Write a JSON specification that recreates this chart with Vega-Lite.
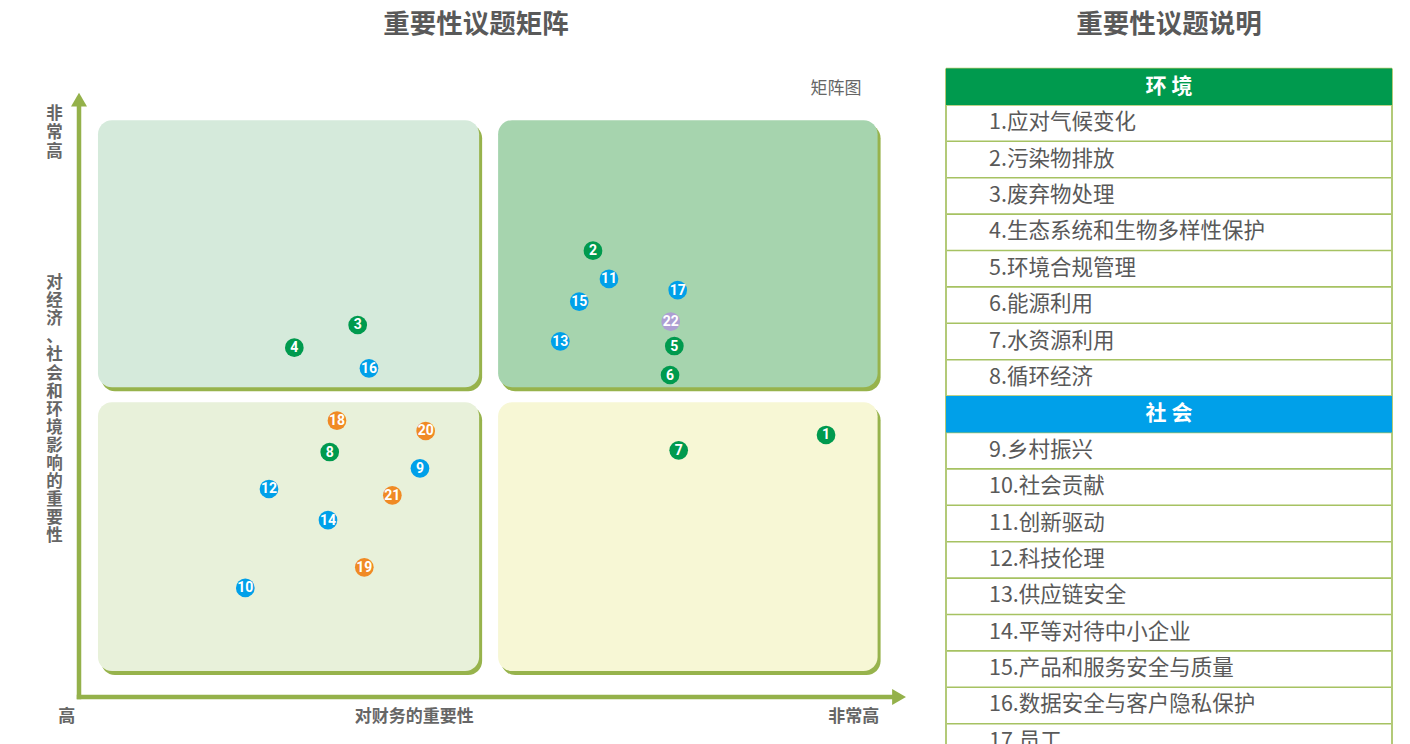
{
  "$schema": "https://vega.github.io/schema/vega-lite/v6.json",
  "padding": 0,
  "spacing": 0,
  "background": "white",
  "config": {"view": {"stroke": null}, "font": "Noto Sans CJK SC"},
  "datasets": {
    "quadrants": [
      {"q": "TL", "u": 2.3, "u2": 48.5, "v": 51.3, "v2": 95.5},
      {"q": "TR", "u": 50.8, "u2": 96.8, "v": 51.3, "v2": 95.5},
      {"q": "BL", "u": 2.3, "u2": 48.5, "v": 4.3, "v2": 48.8},
      {"q": "BR", "u": 50.8, "u2": 96.8, "v": 4.3, "v2": 48.8}
    ],
    "points": [
      {"id": "1", "cat": "环境", "u": 90.55, "v": 43.38},
      {"id": "2", "cat": "环境", "u": 62.3, "v": 73.89},
      {"id": "3", "cat": "环境", "u": 33.78, "v": 61.59},
      {"id": "4", "cat": "环境", "u": 26.1, "v": 57.83},
      {"id": "5", "cat": "环境", "u": 72.16, "v": 58.11},
      {"id": "6", "cat": "环境", "u": 71.64, "v": 53.31},
      {"id": "7", "cat": "环境", "u": 72.69, "v": 40.84},
      {"id": "8", "cat": "环境", "u": 30.39, "v": 40.56},
      {"id": "9", "cat": "社会", "u": 41.33, "v": 37.86},
      {"id": "10", "cat": "社会", "u": 20.16, "v": 18.05},
      {"id": "11", "cat": "社会", "u": 64.24, "v": 69.21},
      {"id": "12", "cat": "社会", "u": 23.03, "v": 34.44},
      {"id": "13", "cat": "社会", "u": 58.34, "v": 58.89},
      {"id": "14", "cat": "社会", "u": 30.18, "v": 29.3},
      {"id": "15", "cat": "社会", "u": 60.64, "v": 65.45},
      {"id": "16", "cat": "社会", "u": 35.15, "v": 54.42},
      {"id": "17", "cat": "社会", "u": 72.57, "v": 67.38},
      {"id": "18", "cat": "治理", "u": 31.27, "v": 45.75},
      {"id": "19", "cat": "治理", "u": 34.58, "v": 21.47},
      {"id": "20", "cat": "治理", "u": 42.02, "v": 44.04},
      {"id": "21", "cat": "治理", "u": 37.98, "v": 33.39},
      {"id": "22", "cat": "其他", "u": 71.72, "v": 62.14}
    ],
    "hlines": [
      {"x": 0, "x2": 1, "r": -0.5}, {"x": 0, "x2": 1, "r": 0.5}, {"x": 0, "x2": 1, "r": 1.5},
      {"x": 0, "x2": 1, "r": 2.5}, {"x": 0, "x2": 1, "r": 3.5}, {"x": 0, "x2": 1, "r": 4.5},
      {"x": 0, "x2": 1, "r": 5.5}, {"x": 0, "x2": 1, "r": 6.5}, {"x": 0, "x2": 1, "r": 7.5},
      {"x": 0, "x2": 1, "r": 8.5}, {"x": 0, "x2": 1, "r": 9.5}, {"x": 0, "x2": 1, "r": 10.5},
      {"x": 0, "x2": 1, "r": 11.5}, {"x": 0, "x2": 1, "r": 12.5}, {"x": 0, "x2": 1, "r": 13.5},
      {"x": 0, "x2": 1, "r": 14.5}, {"x": 0, "x2": 1, "r": 15.5}, {"x": 0, "x2": 1, "r": 16.5},
      {"x": 0, "x2": 1, "r": 17.5}
    ],
    "headers": [
      {"sec": "环 境", "x": 0, "x2": 1, "r": -0.5, "r2": 0.5, "xc": 0.5, "rc": 0},
      {"sec": "社 会", "x": 0, "x2": 1, "r": 8.5, "r2": 9.5, "xc": 0.5, "rc": 9}
    ],
    "items": [
      {"label": "1.应对气候变化", "x": 0.0964, "r": 1},
      {"label": "2.污染物排放", "x": 0.0964, "r": 2},
      {"label": "3.废弃物处理", "x": 0.0964, "r": 3},
      {"label": "4.生态系统和生物多样性保护", "x": 0.0964, "r": 4},
      {"label": "5.环境合规管理", "x": 0.0964, "r": 5},
      {"label": "6.能源利用", "x": 0.0964, "r": 6},
      {"label": "7.水资源利用", "x": 0.0964, "r": 7},
      {"label": "8.循环经济", "x": 0.0964, "r": 8},
      {"label": "9.乡村振兴", "x": 0.0964, "r": 10},
      {"label": "10.社会贡献", "x": 0.0964, "r": 11},
      {"label": "11.创新驱动", "x": 0.0964, "r": 12},
      {"label": "12.科技伦理", "x": 0.0964, "r": 13},
      {"label": "13.供应链安全", "x": 0.0964, "r": 14},
      {"label": "14.平等对待中小企业", "x": 0.0964, "r": 15},
      {"label": "15.产品和服务安全与质量", "x": 0.0964, "r": 16},
      {"label": "16.数据安全与客户隐私保护", "x": 0.0964, "r": 17},
      {"label": "17.员工", "x": 0.0964, "r": 18}
    ]
  },
  "hconcat": [
    {
      "width": 940,
      "height": 744,
      "encoding": {
        "x": {"field": "u", "type": "quantitative", "scale": {"domain": [-9.5758, 104.3636], "nice": false, "zero": false}, "axis": null},
        "y": {"field": "v", "type": "quantitative", "scale": {"domain": [-7.7815, 115.3974], "nice": false, "zero": false}, "axis": null}
      },
      "layer": [
        {
          "data": {"name": "quadrants"},
          "mark": {"type": "rect", "color": "#97b34c", "cornerRadius": 14, "xOffset": 3, "x2Offset": 3, "yOffset": 4, "y2Offset": 4},
          "encoding": {"x2": {"field": "u2"}, "y2": {"field": "v2"}}
        },
        {
          "data": {"name": "quadrants"},
          "mark": {"type": "rect", "cornerRadius": 14},
          "encoding": {
            "x2": {"field": "u2"},
            "y2": {"field": "v2"},
            "color": {"field": "q", "type": "nominal", "scale": {"domain": ["TL", "TR", "BL", "BR"], "range": ["#d5eadb", "#a6d4ae", "#e8f1da", "#f7f7d5"]}, "legend": null}
          }
        },
        {
          "data": {"values": [{"u": 0, "v": 0, "v2": 97.5}]},
          "mark": {"type": "rule", "color": "#94b14a", "strokeWidth": 4.5, "strokeCap": "square"},
          "encoding": {"y2": {"field": "v2"}}
        },
        {
          "data": {"values": [{"u": 0, "v": 0, "u2": 98.55}]},
          "mark": {"type": "rule", "color": "#94b14a", "strokeWidth": 4.5, "strokeCap": "square"},
          "encoding": {"x2": {"field": "u2"}}
        },
        {
          "data": {"values": [{"u": 0, "v": 98.9, "dir": "up"}, {"u": 99.4, "v": 0, "dir": "right"}]},
          "mark": {"type": "point", "filled": true, "size": 256, "opacity": 1, "color": "#94b14a"},
          "encoding": {"shape": {"field": "dir", "type": "nominal", "scale": {"domain": ["up", "right"], "range": ["triangle-up", "triangle-right"]}, "legend": null}}
        },
        {
          "data": {"name": "points"},
          "mark": {"type": "circle", "size": 350, "opacity": 1},
          "encoding": {"color": {"field": "cat", "type": "nominal", "scale": {"domain": ["环境", "社会", "治理", "其他"], "range": ["#009a4e", "#00a0e9", "#f08a24", "#ad9fd3"]}, "legend": null}}
        },
        {
          "data": {"name": "points"},
          "mark": {"type": "text", "color": "white", "fontSize": 14, "fontWeight": "bold", "font": "Roboto", "baseline": "middle", "align": "center", "dy": 0.5},
          "encoding": {"text": {"field": "id", "type": "nominal"}}
        },
        {
          "data": {"values": [{"t": "重要性议题矩阵", "u": 48.12, "v": 111.26}]},
          "mark": {"type": "text", "fontSize": 26.5, "fontWeight": "bold", "color": "#595959", "baseline": "middle", "align": "center"},
          "encoding": {"text": {"field": "t"}}
        },
        {
          "data": {"values": [{"t": "矩阵图", "u": 91.76, "v": 100.66}]},
          "mark": {"type": "text", "fontSize": 17, "color": "#666666", "baseline": "middle", "align": "center"},
          "encoding": {"text": {"field": "t"}}
        },
        {
          "data": {"values": [{"t": "非\n常\n高", "u": -2.97, "v": 96.49}]},
          "mark": {"type": "text", "fontSize": 16.5, "fontWeight": "bold", "color": "#666666", "baseline": "middle", "align": "center", "lineBreak": "\n", "lineHeight": 19},
          "encoding": {"text": {"field": "t"}}
        },
        {
          "data": {"values": [{"t": "对\n经\n济\n、\n社\n会\n和\n环\n境\n影\n响\n的\n重\n要\n性", "u": -2.97, "v": 68.54}]},
          "mark": {"type": "text", "fontSize": 16.5, "fontWeight": "bold", "color": "#666666", "baseline": "middle", "align": "center", "lineBreak": "\n", "lineHeight": 18.1},
          "encoding": {"text": {"field": "t"}}
        },
        {
          "data": {"values": [
            {"t": "高", "u": -1.49, "v": -3.3},
            {"t": "对财务的重要性", "u": 40.63, "v": -3.3},
            {"t": "非常高", "u": 93.92, "v": -3.3}
          ]},
          "mark": {"type": "text", "fontSize": 17, "fontWeight": "bold", "color": "#666666", "baseline": "middle", "align": "center"},
          "encoding": {"text": {"field": "t"}}
        }
      ],
      "resolve": {"scale": {"color": "independent"}}
    },
    {
      "width": 470,
      "height": 744,
      "encoding": {
        "x": {"field": "x", "type": "quantitative", "scale": {"domain": [-0.013453, 1.040359], "nice": false, "zero": false}, "axis": null},
        "y": {"field": "r", "type": "quantitative", "scale": {"domain": [-2.3819, 18.0577], "nice": false, "zero": false, "reverse": true}, "axis": null}
      },
      "layer": [
        {
          "data": {"name": "hlines"},
          "mark": {"type": "rule", "color": "#a6c262", "strokeWidth": 1.6, "clip": true},
          "encoding": {"x2": {"field": "x2"}}
        },
        {
          "data": {"values": [{"x": 0, "r": -0.5, "r2": 18.0577}, {"x": 1, "r": -0.5, "r2": 18.0577}]},
          "mark": {"type": "rule", "color": "#b3ca78", "strokeWidth": 2, "clip": true},
          "encoding": {"y2": {"field": "r2"}}
        },
        {
          "data": {"name": "headers"},
          "mark": {"type": "rect", "clip": true},
          "encoding": {
            "x2": {"field": "x2"},
            "y2": {"field": "r2"},
            "color": {"field": "sec", "type": "nominal", "scale": {"domain": ["环 境", "社 会"], "range": ["#009a4e", "#00a0e9"]}, "legend": null}
          }
        },
        {
          "data": {"name": "headers"},
          "mark": {"type": "text", "color": "white", "fontSize": 21, "fontWeight": "bold", "baseline": "middle", "align": "center", "clip": true},
          "encoding": {
            "x": {"field": "xc", "type": "quantitative"},
            "y": {"field": "rc", "type": "quantitative"},
            "text": {"field": "sec"}
          }
        },
        {
          "data": {"name": "items"},
          "mark": {"type": "text", "color": "#595959", "fontSize": 21.5, "baseline": "middle", "align": "left", "clip": true},
          "encoding": {"text": {"field": "label"}}
        },
        {
          "data": {"values": [{"t": "重要性议题说明", "x": 0.5, "r": -1.695}]},
          "mark": {"type": "text", "fontSize": 26.5, "fontWeight": "bold", "color": "#595959", "baseline": "middle", "align": "center", "clip": true},
          "encoding": {"text": {"field": "t"}}
        }
      ]
    }
  ]
}
